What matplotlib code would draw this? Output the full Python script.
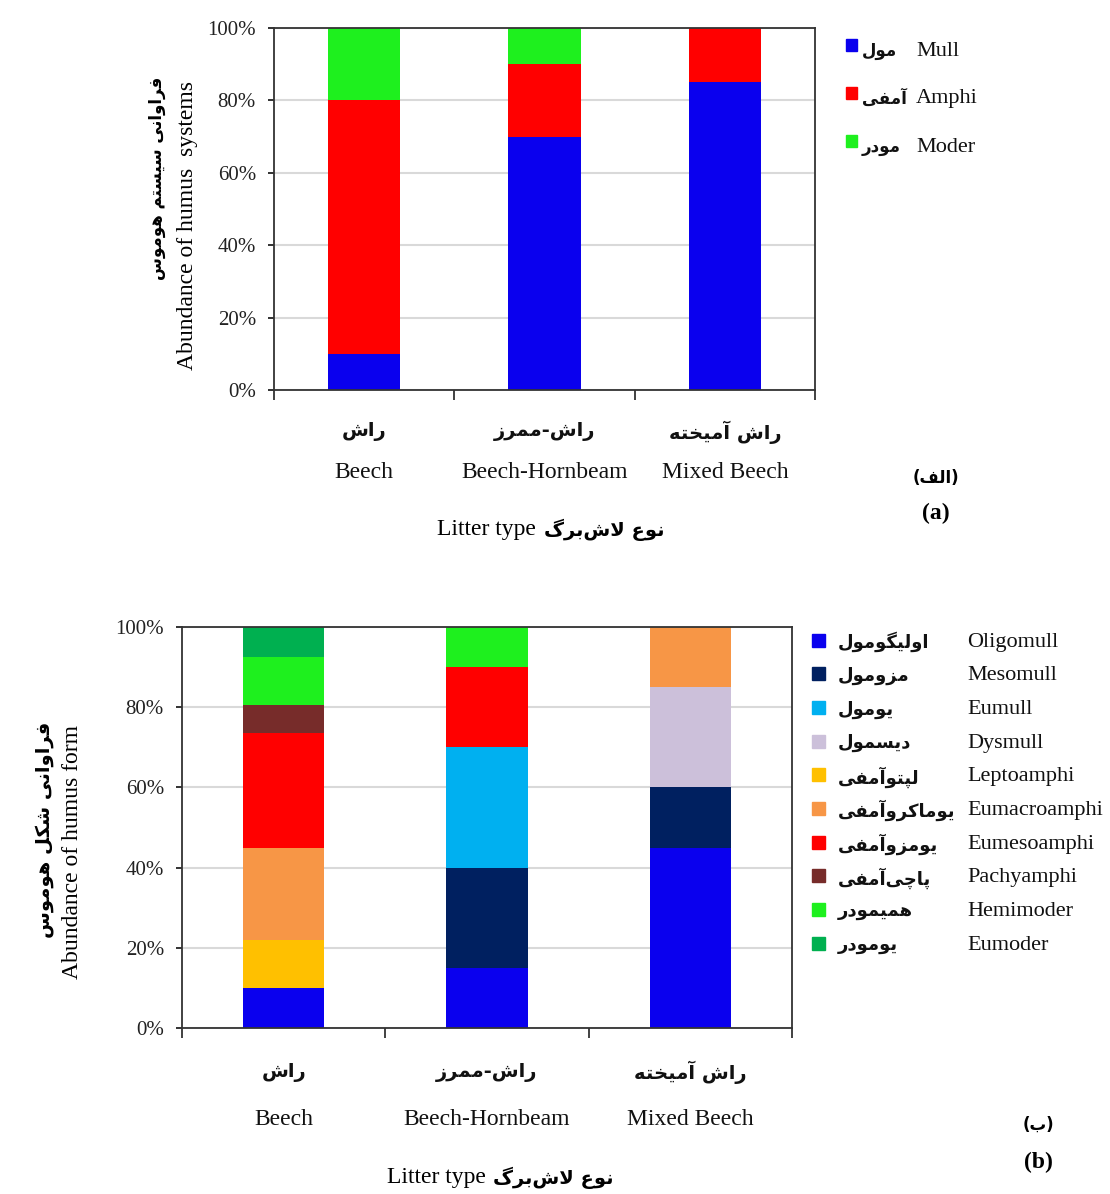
import matplotlib
matplotlib.use('Agg')
import matplotlib.pyplot as plt
import matplotlib.transforms as mtransforms
from matplotlib.patches import Rectangle
from matplotlib.ticker import PercentFormatter
import numpy as np

# litter types (x categories)
categories_fa = ['راش', 'راش-ممرز', 'راش آمیخته']
categories_en = ['Beech', 'Beech-Hornbeam', 'Mixed Beech']

# (a) humus systems, % of profiles
system_fa = ['مول', 'آمفی', 'مودر']
system_en = ['Mull', 'Amphi', 'Moder']
mull = [10, 70, 85]
amphi = [70, 20, 15]
moder = [20, 10, 0]
system_colors = ['#0A00EE', '#FF0000', '#1EF01E']

# (b) humus forms, % of profiles
form_fa = ['اولیگومول', 'مزومول', 'یومول', 'دیسمول', 'لپتوآمفی',
           'یوماکروآمفی', 'یومزوآمفی', 'پاچی‌آمفی', 'همیمودر', 'یومودر']
form_en = ['Oligomull', 'Mesomull', 'Eumull', 'Dysmull', 'Leptoamphi',
           'Eumacroamphi', 'Eumesoamphi', 'Pachyamphi', 'Hemimoder', 'Eumoder']
oligomull = [10, 15, 45]
mesomull = [0, 25, 15]
eumull = [0, 30, 0]
dysmull = [0, 0, 25]
leptoamphi = [12, 0, 0]
eumacroamphi = [23, 0, 15]
eumesoamphi = [28.5, 20, 0]
pachyamphi = [7, 0, 0]
hemimoder = [12, 10, 0]
eumoder = [7.5, 0, 0]
form_colors = ['#0A00EE', '#002060', '#00B0F0', '#CCC0DA', '#FFC000',
               '#F79646', '#FF0000', '#772C2A', '#1EF01E', '#00B050']

W, H = 1110, 1194
SERIF = ['Liberation Serif', 'DejaVu Sans']
FA = ['DejaVu Sans']
plt.rcParams['font.family'] = SERIF

# --- minimal persian shaping (matplotlib has no bidi / joining) ---
# letter -> (first presentation form, number of forms)
FORMS = {'\u0627': (0xFE8D, 2), '\u0622': (0xFE81, 2), '\u0628': (0xFE8F, 4),
         '\u067E': (0xFB56, 4), '\u062A': (0xFE95, 4), '\u0686': (0xFB7A, 4),
         '\u062E': (0xFEA5, 4), '\u062F': (0xFEA9, 2), '\u0631': (0xFEAD, 2),
         '\u0632': (0xFEAF, 2), '\u0633': (0xFEB1, 4), '\u0634': (0xFEB5, 4),
         '\u0639': (0xFEC9, 4), '\u0641': (0xFED1, 4), '\u06A9': (0xFB8E, 4),
         '\u06AF': (0xFB92, 4), '\u0644': (0xFEDD, 4), '\u0645': (0xFEE1, 4),
         '\u0646': (0xFEE5, 4), '\u0647': (0xFEE9, 4), '\u0648': (0xFEED, 2),
         '\u06CC': (0xFBFC, 4)}
LAM_ALEF = {'\u0627': (0xFEFB, 0xFEFC), '\u0622': (0xFEF5, 0xFEF6)}


def dual(c):
    return c in FORMS and FORMS[c][1] == 4


def shape(s):
    s = s.replace('\u064A', '\u06CC').replace('\u0643', '\u06A9')
    out = []
    i = 0
    while i < len(s):
        c = s[i]
        if c not in FORMS:
            if c != '\u200c':
                out.append(c)
            i += 1
            continue
        jp = i > 0 and dual(s[i - 1])
        if c == '\u0644' and i + 1 < len(s) and s[i + 1] in LAM_ALEF:
            out.append(chr(LAM_ALEF[s[i + 1]][1 if jp else 0]))
            i += 2
            continue
        jn = dual(c) and i + 1 < len(s) and s[i + 1] in FORMS
        base = FORMS[c][0]
        if jp and jn:
            k = 3
        elif jp:
            k = 1
        elif jn:
            k = 2
        else:
            k = 0
        out.append(chr(base + k))
        i += 1
    mirror = {'(': ')', ')': '('}
    return ''.join(mirror.get(ch, ch) for ch in reversed(out))


def fx(x):
    return x / W


def fy(y):
    return 1 - y / H


def stacked(ax, series, colors):
    x = np.arange(len(categories_en))
    bottom = np.zeros(len(x))
    for vals, c in zip(series, colors):
        ax.bar(x, vals, 0.4, bottom=bottom, color=c, linewidth=0, zorder=2)
        bottom += np.array(vals, dtype=float)
    ax.set_xlim(-0.5, 2.5)
    ax.set_ylim(0, 100)
    ax.set_yticks(range(0, 101, 20))
    ax.yaxis.set_major_formatter(PercentFormatter(decimals=0))
    ax.set_xticks([-0.5, 0.5, 1.5, 2.5])
    ax.set_xticklabels([])
    ax.grid(axis='y', color='#D9D9D9', linewidth=1.5, zorder=0)
    ax.set_axisbelow(True)
    for sp in ax.spines.values():
        sp.set_color('#333333')
        sp.set_linewidth(1.3)
    ax.tick_params(axis='y', direction='out', length=4, width=1.3, pad=9,
                   labelsize=15, colors='#222222')
    ax.tick_params(axis='x', direction='out', length=7, width=1.3, colors='#333333')
    trans = mtransforms.blended_transform_factory(ax.transData, ax.transAxes)
    for i, (fa, en) in enumerate(zip(categories_fa, categories_en)):
        ax.text(i, fa_y, shape(fa), transform=trans, ha='center', va='center',
                family=FA, fontweight='bold', fontsize=14, color='#111111')
        ax.text(i, en_y, en, transform=trans, ha='center', va='center',
                fontsize=17, color='#111111')


def key(colors, fa_labels, en_labels, x_sq, x_fa, x_en, y0, dy, sq, tdy, fa_size):
    for i, (c, fa, en) in enumerate(zip(colors, fa_labels, en_labels)):
        y = y0 + i * dy
        fig.add_artist(Rectangle((fx(x_sq - sq / 2), fy(y + sq / 2)), sq / W, sq / H,
                                 transform=fig.transFigure, color=c))
        fig.text(fx(x_fa), fy(y + tdy), shape(fa), ha='left', va='center',
                 family=FA, fontweight='bold', fontsize=fa_size, color='#111111')
        fig.text(fx(x_en), fy(y + tdy), en, ha='left', va='center',
                 fontsize=16, color='#111111')


fig = plt.figure(figsize=(W / 100, H / 100), dpi=100)

# ---------------- (a) ----------------
ax1 = fig.add_axes([fx(274), fy(390), (815 - 274) / W, (390 - 28) / H])
fa_y, en_y = -0.116, -0.227
stacked(ax1, [mull, amphi, moder], system_colors)
key(system_colors, system_fa, system_en, 851, 862, 916, 45, 48, 11, 6, 12)

fig.text(fx(157), fy(178), shape('فراوانی سیستم هوموس'), rotation=90,
         ha='center', va='center', family=FA, fontweight='bold', fontsize=12)
fig.text(fx(188), fy(225), 'Abundance of humus  systems', rotation=90,
         ha='center', va='center', fontsize=17)
fig.text(fx(536), fy(530), 'Litter type', ha='right', va='center', fontsize=17)
fig.text(fx(544), fy(530), shape('نوع لاش‌برگ'), ha='left', va='center',
         family=FA, fontweight='bold', fontsize=14)
fig.text(fx(936), fy(478), shape('(الف)'), ha='center', va='center',
         family=FA, fontweight='bold', fontsize=12)
fig.text(fx(936), fy(513), '(a)', ha='center', va='center',
         fontweight='bold', fontsize=17)

# ---------------- (b) ----------------
ax2 = fig.add_axes([fx(182), fy(1028), (792 - 182) / W, (1028 - 627) / H])
fa_y, en_y = -0.110, -0.229
stacked(ax2, [oligomull, mesomull, eumull, dysmull, leptoamphi, eumacroamphi,
              eumesoamphi, pachyamphi, hemimoder, eumoder], form_colors)
key(form_colors, form_fa, form_en, 818, 838, 967, 640, 33.7, 13, 2, 13)

fig.text(fx(45), fy(830), shape('فراوانی شکل هوموس'), rotation=90,
         ha='center', va='center', family=FA, fontweight='bold', fontsize=14)
fig.text(fx(73), fy(852), 'Abundance of humus form', rotation=90,
         ha='center', va='center', fontsize=17)
fig.text(fx(486), fy(1178), 'Litter type', ha='right', va='center', fontsize=17)
fig.text(fx(493), fy(1178), shape('نوع لاش‌برگ'), ha='left', va='center',
         family=FA, fontweight='bold', fontsize=14)
fig.text(fx(1038), fy(1125), shape('(ب)'), ha='center', va='center',
         family=FA, fontweight='bold', fontsize=12)
fig.text(fx(1038), fy(1162), '(b)', ha='center', va='center',
         fontweight='bold', fontsize=17)

fig.savefig('out.png', dpi=100)
